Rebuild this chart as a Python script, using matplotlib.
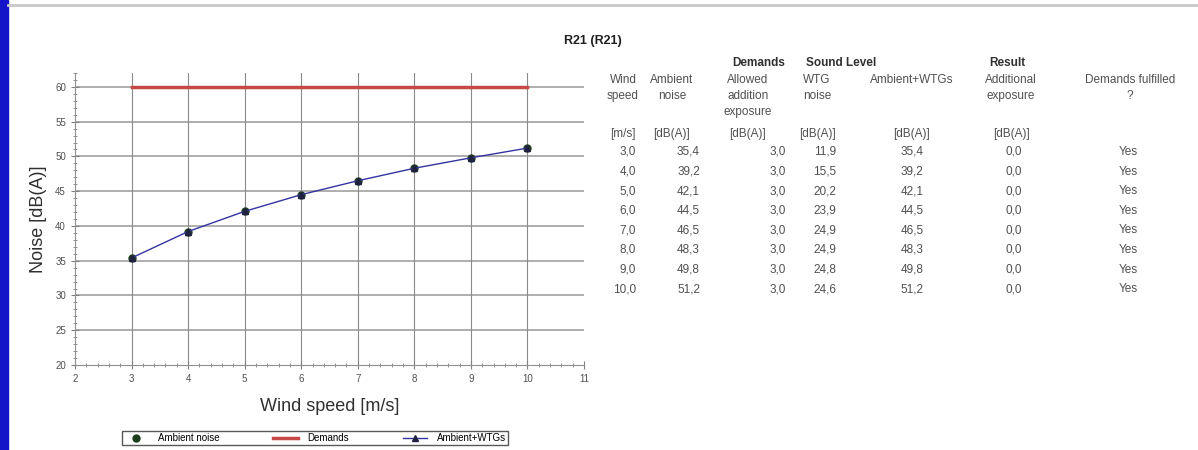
import matplotlib
matplotlib.use("Agg")
import matplotlib.pyplot as plt
import matplotlib.ticker as ticker
from matplotlib.patches import Rectangle
from matplotlib.lines import Line2D

plt.rcParams['font.family'] = ['Liberation Sans', 'DejaVu Sans']

# data
wind_speed = [3.0, 4.0, 5.0, 6.0, 7.0, 8.0, 9.0, 10.0]
ambient_noise = [35.4, 39.2, 42.1, 44.5, 46.5, 48.3, 49.8, 51.2]
allowed_addition = [3.0, 3.0, 3.0, 3.0, 3.0, 3.0, 3.0, 3.0]
wtg_noise = [11.9, 15.5, 20.2, 23.9, 24.9, 24.9, 24.8, 24.6]
ambient_wtgs = [35.4, 39.2, 42.1, 44.5, 46.5, 48.3, 49.8, 51.2]
additional_exposure = [0.0, 0.0, 0.0, 0.0, 0.0, 0.0, 0.0, 0.0]
demands_fulfilled = ["Yes"] * 8
demand_level = 60

W, H = 1198, 450
fig = plt.figure(figsize=(W / 100, H / 100), dpi=100)

def fx(px):
    return px / W

def fy(py):
    return 1 - py / H

# rammen
fig.patches.append(Rectangle((0, 0), fx(8), 1, transform=fig.transFigure,
                             color='#1414c8', zorder=0))
fig.add_artist(Line2D([fx(8), 1], [fy(5), fy(5)], transform=fig.transFigure,
                      color='#c8c8c8', lw=2))

# graf
ax = fig.add_axes([fx(75), fy(365), fx(584) - fx(75), fy(73) - fy(365)])
ax.set_xlim(2, 11)
ax.set_ylim(20, 62)

for y in range(25, 61, 5):
    ax.axhline(y, color='#a8a8a8', lw=1.3, zorder=1)
for x in wind_speed:
    ax.axvline(x, color='#8a8a8a', lw=0.8, zorder=1)

ax.plot([wind_speed[0], wind_speed[-1]], [demand_level, demand_level],
        color='#c84848', lw=2.5, zorder=3, label='Demands')
ax.plot(wind_speed, ambient_noise, color='#1e3c1e', lw=0, marker='o',
        markersize=5, zorder=4, label='Ambient noise')
ax.plot(wind_speed, ambient_wtgs, color='#3434a0', lw=1, marker='^',
        markersize=4, markerfacecolor='#202040', markeredgecolor='#202040',
        zorder=5, label='Ambient+WTGs')

ax.xaxis.set_major_locator(ticker.MultipleLocator(1))
ax.xaxis.set_minor_locator(ticker.MultipleLocator(0.2))
ax.yaxis.set_major_locator(ticker.MultipleLocator(5))
ax.yaxis.set_minor_locator(ticker.MultipleLocator(1))
ax.tick_params(which='both', direction='inout', colors='#808080', labelcolor='#505050')
ax.tick_params(which='major', length=6, labelsize=7)
ax.tick_params(which='minor', length=3)
for s in ['top', 'right']:
    ax.spines[s].set_visible(False)
for s in ['left', 'bottom']:
    ax.spines[s].set_color('#909090')
ax.set_xlabel("Wind speed [m/s]", fontsize=13, color='#303030', labelpad=10)
ax.set_ylabel("Noise [dB(A)]", fontsize=13, color='#303030', labelpad=6)

h, l = ax.get_legend_handles_labels()
order = [1, 0, 2]
leg = fig.legend([h[i] for i in order], [l[i] for i in order], ncol=3,
                 loc='center', bbox_to_anchor=(fx(315), fy(438)),
                 fontsize=7, frameon=True, fancybox=False, edgecolor='#303030',
                 borderpad=0.2, handlelength=2.5, columnspacing=5.5,
                 handletextpad=1.0)
leg.get_frame().set_linewidth(1.0)

# tabel
fig.text(fx(593), fy(41), "R21 (R21)", fontsize=9, fontweight='bold',
         ha='center', va='center', color='#202020')

tc = '#505050'
fs = 8.5
fig.text(fx(785), fy(63), "Demands", fontsize=fs, fontweight='bold', ha='right', va='center', color='#303030')
fig.text(fx(806), fy(63), "Sound Level", fontsize=fs, fontweight='bold', ha='left', va='center', color='#303030')
fig.text(fx(989), fy(63), "Result", fontsize=fs, fontweight='bold', ha='left', va='center', color='#303030')

headers = [
    (623, ["Wind", "speed"], "[m/s]"),
    (672, ["Ambient", "noise"], "[dB(A)]"),
    (748, ["Allowed", "addition", "exposure"], "[dB(A)]"),
    (817, ["WTG", "noise"], "[dB(A)]"),
    (912, ["Ambient+WTGs"], "[dB(A)]"),
    (1011, ["Additional", "exposure"], "[dB(A)]"),
    (1130, ["Demands fulfilled", "?"], ""),
]
for x, lines, unit in headers:
    for i, t in enumerate(lines):
        fig.text(fx(x), fy(80 + 16 * i), t, fontsize=fs, ha='center', va='center', color=tc)
    if unit:
        fig.text(fx(x), fy(134), unit, fontsize=fs, ha='center', va='center', color=tc)

def fmt(v):
    return f"{v:.1f}".replace('.', ',')

row0, step = 152, 19.6
for i in range(len(wind_speed)):
    y = fy(row0 + step * i)
    fig.text(fx(636), y, fmt(wind_speed[i]), fontsize=fs, ha='right', va='center', color=tc)
    fig.text(fx(700), y, fmt(ambient_noise[i]), fontsize=fs, ha='right', va='center', color=tc)
    fig.text(fx(786), y, fmt(allowed_addition[i]), fontsize=fs, ha='right', va='center', color=tc)
    fig.text(fx(836), y, fmt(wtg_noise[i]), fontsize=fs, ha='right', va='center', color=tc)
    fig.text(fx(912), y, fmt(ambient_wtgs[i]), fontsize=fs, ha='center', va='center', color=tc)
    fig.text(fx(1014), y, fmt(additional_exposure[i]), fontsize=fs, ha='center', va='center', color=tc)
    fig.text(fx(1128), y, demands_fulfilled[i], fontsize=fs, ha='center', va='center', color=tc)

fig.savefig("out.png", dpi=100, facecolor='white')
